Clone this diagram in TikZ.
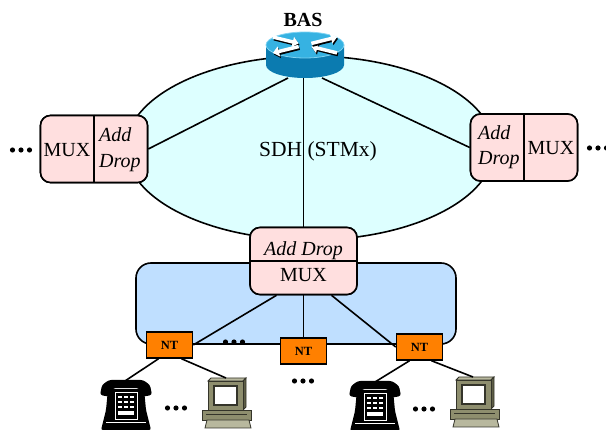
\documentclass[tikz,border=0pt]{standalone}
\usepackage{fontspec}
\setmainfont{Liberation Serif}
\usetikzlibrary{arrows.meta}

\definecolor{ringfill}{HTML}{DDFFFF}
\definecolor{boxpink}{HTML}{FFDFDF}
\definecolor{lanblue}{HTML}{BFDFFF}
\definecolor{ntorange}{HTML}{FF8000}
\definecolor{rttop}{HTML}{36B2E2}
\definecolor{rtside}{HTML}{0B7BB0}
\definecolor{rtrim}{HTML}{7FD3F2}
\definecolor{pcface}{HTML}{8E8E6E}
\definecolor{pclight}{HTML}{B8B89E}
\definecolor{pcdark}{HTML}{5E5E46}
\definecolor{pcline}{HTML}{34342A}

\tikzset{
  muxbox/.style={draw, fill=boxpink, rounded corners=10pt, line width=1.6pt,
    minimum width=107pt, minimum height=67pt, inner sep=0pt},
  ntbox/.style={draw, fill=ntorange, line width=1.5pt, minimum width=46pt,
    minimum height=26pt, inner sep=0pt,
    font=\fontsize{12.5}{14}\selectfont\bfseries},
  lanarea/.style={draw, fill=lanblue, rounded corners=15pt, line width=1.6pt,
    minimum width=320pt, minimum height=81pt, inner sep=0pt},
  link/.style={line width=1.6pt},
  bigtxt/.style={inner sep=0pt, anchor=base, font=\fontsize{20}{23}\selectfont},
  itxt/.style={inner sep=0pt, anchor=base west, font=\fontsize{20}{23}\selectfont\itshape},
  dotrow/.pic={\foreach \dx in {-8.5,0,8.5} \fill (\dx,0) circle (2.6pt);},
  deskphone/.pic={
    % handset resting on the cradle
    \fill[black, rounded corners=2.5pt] (2,5) -- (9,0) -- (43,0) -- (50,5)
      -- (52,15) -- (41,17) -- (39,8) -- (13,8) -- (11,17) -- (0,15) -- cycle;
    % body
    \fill[black, rounded corners=2pt] (8,9) -- (44,9) -- (46,30) -- (51,50)
      -- (1,50) -- (6,30) -- cycle;
    \draw[white, line width=0.6pt] (6,42) -- (46,42);
    % front panel and keys
    \draw[white, line width=0.6pt] (15,12) rectangle (37,39);
    \foreach \r in {16,21,26} \foreach \c in {18,24,30}
      \fill[white] (\c,\r) rectangle ++(4,2.2);
    \fill[white] (18,31) rectangle (34,35.5);
  },
  desktoppc/.pic={
    % monitor
    \filldraw[fill=pclight, draw=pcline, line width=0.8pt]
      (6,3) -- (9,0) -- (44,0) -- (41,3) -- cycle;
    \filldraw[fill=pcdark, draw=pcline, line width=0.8pt]
      (41,3) -- (44,0) -- (44,29) -- (41,32) -- cycle;
    \filldraw[fill=pcface, draw=pcline, line width=0.8pt] (6,3) rectangle (41,32);
    \filldraw[fill=white, draw=pcline, line width=1.2pt] (12,8) rectangle (35,27);
    % system unit
    \filldraw[fill=pcface, draw=pcline, line width=0.8pt] (0,32) rectangle (49,42);
    \draw[pcline, line width=1.5pt] (4,36.5) -- (45,36.5);
    % keyboard
    \filldraw[fill=pclight, draw=pcline, line width=0.8pt]
      (5,42) -- (47,42) -- (49,50) -- (3,50) -- cycle;
  }
}

\begin{document}
\begin{tikzpicture}[x=1pt, y=-1pt]
\useasboundingbox (0,0) rectangle (606,430);

% access area behind the lower multiplexer
\node[lanarea] (lan) at (296,303.5) {};

% SDH ring
\draw[fill=ringfill, line width=1.6pt] (310,148) ellipse [x radius=184, y radius=92];

% multiplexers
\node[muxbox] (lbox) at (94,149) {};
\node[muxbox] (rbox) at (524,147.5) {};
\node[muxbox] (bbox) at (303.5,261) {};

% router anchor points
\coordinate (basbot) at (305,78);

% links from the router to the multiplexers
\draw[link] ([xshift=-17pt]basbot) -- (lbox.east);
\draw[link] ([xshift=17pt]basbot) -- (rbox.west);
\draw[link] (bbox.north) -- (bbox.north |- basbot);

% redraw boxes over the links with their dividers
\node[muxbox] at (lbox) {};
\node[muxbox] at (rbox) {};
\node[muxbox] at (bbox) {};
\draw[link] (lbox.north) -- (lbox.south);
\draw[link] (rbox.north) -- (rbox.south);
\draw[link] (bbox.west) -- (bbox.east);

% router (BAS)
\fill[rtside] (266,45) -- (266,65)
  arc [start angle=180, end angle=0, x radius=39, y radius=13] -- (344,45) -- cycle;
\fill[rttop] (305,45) ellipse [x radius=39, y radius=13];
\draw[rtrim, line width=0.8pt] (305,45) ellipse [x radius=39, y radius=13];
\begin{scope}[shift={(305,45)}, yscale=0.33]
  \foreach \a/\b in {-32/-24, 32/24} {
    \draw[black, line width=3.5pt, -{Triangle[length=6pt,width=10pt]}]
      (\a+1,\b+5) -- (\a*0.2+1,\b*0.2+5);
    \draw[white, line width=3.5pt, -{Triangle[length=6pt,width=10pt]}]
      (\a,\b) -- (\a*0.2,\b*0.2);
  }
  \foreach \a/\b in {32/-24, -32/24} {
    \draw[black, line width=3.5pt, -{Triangle[length=6pt,width=10pt]}]
      (\a*0.2+1,\b*0.2+5) -- (\a+1,\b+5);
    \draw[white, line width=3.5pt, -{Triangle[length=6pt,width=10pt]}]
      (\a*0.2,\b*0.2) -- (\a,\b);
  }
\end{scope}

% network terminations
\node[ntbox] (ntL) at (169.5,345) {NT};
\node[ntbox] (ntM) at (303.5,351) {NT};
\node[ntbox] (ntR) at (419.5,347) {NT};

\draw[link] ([xshift=-27pt]bbox.south) -- (ntL.east);
\draw[link] (bbox.south) -- (ntM.north);
\draw[link] ([xshift=28pt]bbox.south) -- (ntR.west);

% terminal equipment
\pic at (100,380) {deskphone};
\pic at (202,378) {desktoppc};
\pic at (349,381) {deskphone};
\pic at (450,377) {desktoppc};

\coordinate (phL) at (125,381);
\coordinate (pcL) at (226,378);
\coordinate (phR) at (375,382);
\coordinate (pcR) at (473,377);

\draw[link] ([xshift=-11pt]ntL.south) -- (phL);
\draw[link] ([xshift=12pt]ntL.south) -- (pcL);
\draw[link] ([xshift=-10pt]ntR.south) -- (phR);
\draw[link] ([xshift=12pt]ntR.south) -- (pcR);

% ellipsis marks
\pic at (21,150) {dotrow};
\pic at (598,148) {dotrow};
\pic at (234,342) {dotrow};
\pic at (303,381) {dotrow};
\pic at (176,408) {dotrow};
\pic at (424,409) {dotrow};

% labels
\node[bigtxt, font=\fontsize{20}{23}\selectfont\bfseries] (bas) at (303,27) {BAS};
\node[bigtxt, font=\fontsize{21.5}{24}\selectfont] (sdh) at (318,157) {SDH (STMx)};
\node[bigtxt] (lmux) at (67,157) {MUX};
\node[itxt] (ladd) at (99,142) {Add};
\node[itxt] (ldrop) at (99,168) {Drop};
\node[bigtxt] (rmux) at (551,155) {MUX};
\node[itxt] (radd) at (478,140) {Add};
\node[itxt] (rdrop) at (478,165) {Drop};
\node[bigtxt, font=\fontsize{20}{23}\selectfont\itshape] (badd) at (303.5,256) {Add Drop};
\node[bigtxt] (bmux) at (303.5,282) {MUX};
\end{tikzpicture}
\end{document}
